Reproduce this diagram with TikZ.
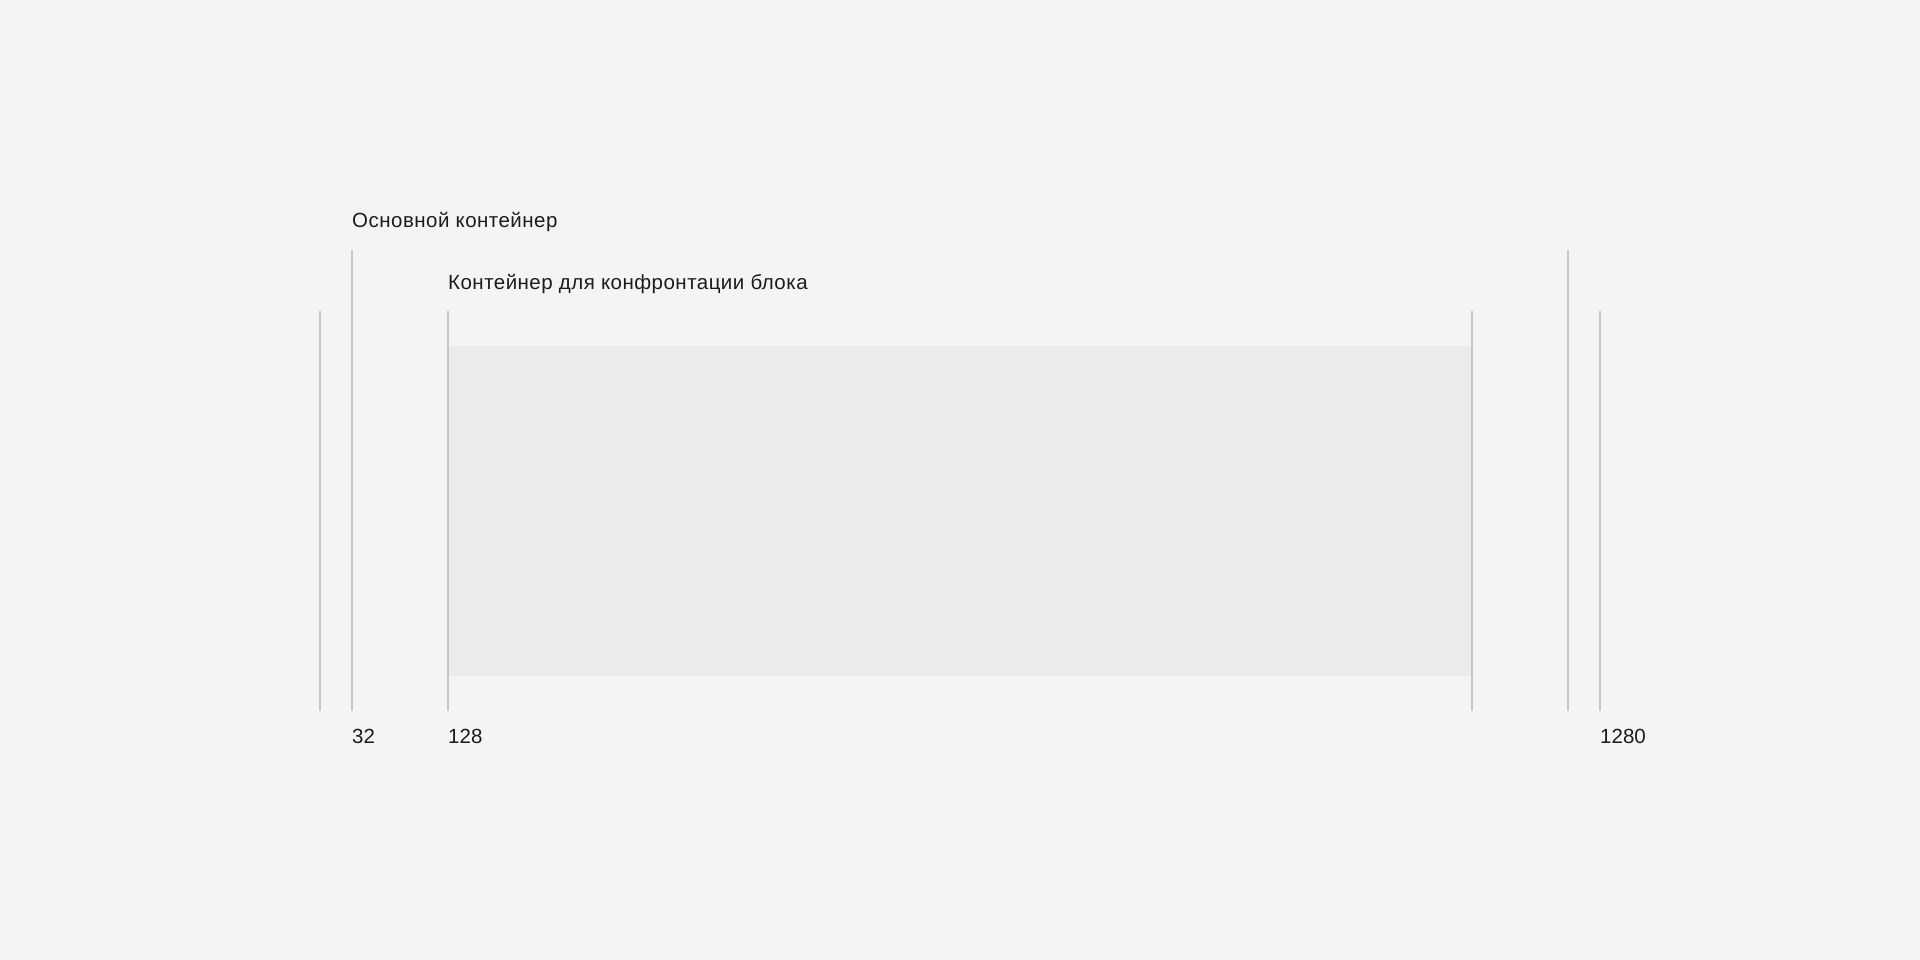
\documentclass[tikz,border=0pt]{standalone}
\usepackage{fontspec}
\setmainfont{Liberation Sans}
\newfontfamily\trackedfont[LetterSpace=2.3]{Liberation Sans}
\definecolor{bg}{HTML}{F4F4F4}
\definecolor{boxfill}{HTML}{EBEBEB}
\definecolor{guide}{HTML}{C6C6C6}
\definecolor{ink}{HTML}{1C1C1C}
\begin{document}
\begin{tikzpicture}[x=1pt,y=-1pt,
  guideline/.style={draw=guide,line width=1.8pt},
  label/.style={anchor=base west,inner sep=0pt,text=ink,font=\fontsize{20.5}{24}\selectfont},
  title/.style={label,font=\trackedfont\fontsize{20.5}{24}\selectfont}]
\fill[bg] (0,0) rectangle (1920,960);
\useasboundingbox (0,0) rectangle (1920,960);
% content block
\fill[boxfill] (448,346) rectangle (1472,676);
% guide line end points
\coordinate (o1t) at (320,311); \coordinate (o1b) at (320,711);
\coordinate (m1t) at (352,250); \coordinate (m1b) at (352,711);
\coordinate (i1t) at (448,311); \coordinate (i1b) at (448,711);
\coordinate (i2t) at (1472,311); \coordinate (i2b) at (1472,711);
\coordinate (m2t) at (1568,250); \coordinate (m2b) at (1568,711);
\coordinate (o2t) at (1600,311); \coordinate (o2b) at (1600,711);
\draw[guideline] (o1t) -- (o1b);
\draw[guideline] (m1t) -- (m1b);
\draw[guideline] (i1t) -- (i1b);
\draw[guideline] (i2t) -- (i2b);
\draw[guideline] (m2t) -- (m2b);
\draw[guideline] (o2t) -- (o2b);
% labels
\node[title] (main) at (352,228) {Основной контейнер};
\node[title] (inner) at (448,289) {Контейнер для конфронтации блока};
\node[label] (n32) at (352,743) {32};
\node[label] (n128) at (448,743) {128};
\node[label] (n1280) at (1600,743) {1280};
\end{tikzpicture}
\end{document}
